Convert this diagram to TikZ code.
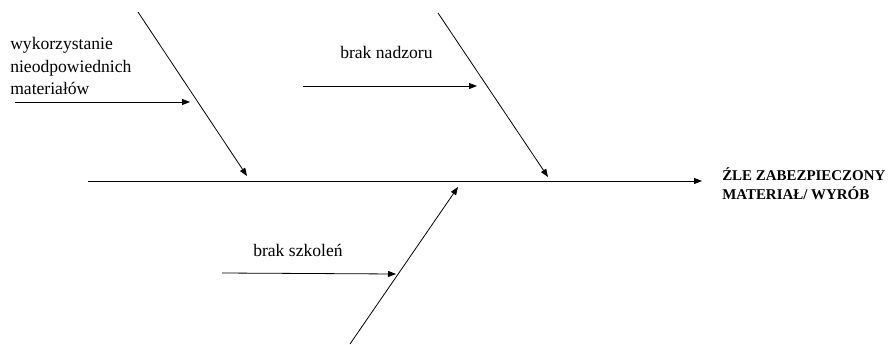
\documentclass[tikz,border=0pt]{standalone}
\usepackage{fontspec}
\setmainfont{Liberation Serif}
\usetikzlibrary{arrows.meta}

\begin{document}
\begin{tikzpicture}[x=0.75pt,y=0.75pt,
    bone/.style={line width=0.6pt,-{Triangle[length=6pt,width=4.5pt]}},
    lbl/.style={anchor=west,inner sep=0pt,align=left,font=\fontsize{13.2}{17}\selectfont}]
  \useasboundingbox (0,0) rectangle (888,344);
  % effect and spine
  \node[anchor=west,inner sep=0pt,align=left,font=\fontsize{11.2}{14.25}\selectfont\bfseries]
    (effect) at (722,160) {ŹLE ZABEZPIECZONY\\MATERIAŁ/ WYRÓB};
  \coordinate (spineA) at (88,163);
  \coordinate (spineB) at (702,163);
  \draw[bone] (spineA) -- (spineB);
  % main bones
  \coordinate (b1s) at (138,332);  \coordinate (b1e) at (247,168);
  \coordinate (b2s) at (438,331);  \coordinate (b2e) at (548,167);
  \coordinate (b3s) at (350,0);    \coordinate (b3e) at (458,157);
  \draw[bone] (b1s) -- (b1e);
  \draw[bone] (b2s) -- (b2e);
  \draw[bone] (b3s) -- (b3e);
  % causes
  \node[lbl] (c1) at (10,278) {wykorzystanie\\nieodpowiednich\\materiałów};
  \node[lbl] (c2) at (340,292) {brak nadzoru};
  \node[lbl] (c3) at (253,94) {brak szkoleń};
  \coordinate (a1s) at (15,242);  \coordinate (a1e) at (190,242);
  \coordinate (a2s) at (303,258); \coordinate (a2e) at (477,258);
  \coordinate (a3s) at (222,71);  \coordinate (a3e) at (396,70);
  \draw[bone] (a1s) -- (a1e);
  \draw[bone] (a2s) -- (a2e);
  \draw[bone] (a3s) -- (a3e);
\end{tikzpicture}
\end{document}
